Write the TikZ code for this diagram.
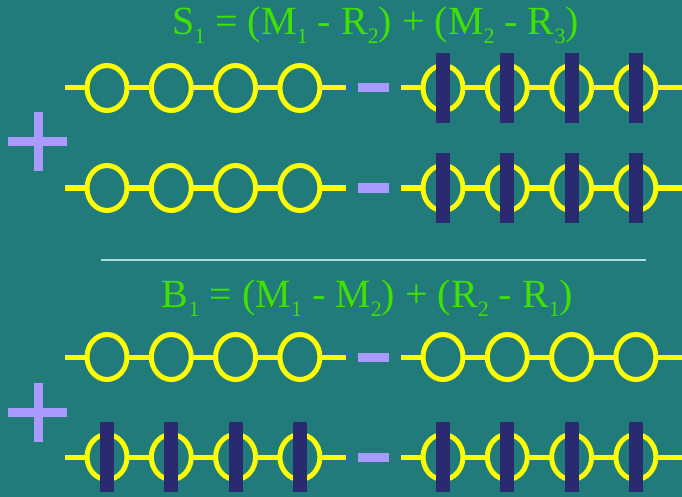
\documentclass[tikz,border=0pt]{standalone}
\usepackage{fontspec}
\setmainfont{Liberation Serif}
\definecolor{bgteal}{RGB}{33,123,122}
\definecolor{eqgreen}{RGB}{64,224,0}
\definecolor{beadyellow}{RGB}{255,255,0}
\definecolor{barnavy}{RGB}{42,42,112}
\definecolor{signlilac}{RGB}{170,153,255}
\definecolor{ruleblue}{RGB}{170,221,224}

% lowered subscript of the equations
\newcommand{\lowsub}[1]{\raisebox{-9pt}{\fontsize{22}{22}\selectfont #1}}

% one chain of four beads: #1 first centre x, #2 row y, #3 = 1 with bars
\newcommand{\beadchain}[3]{%
  \draw[bead] ({#1-42},#2) -- ({#1+239},#2);
  \foreach \k in {0,...,3}{
    \draw[bead, fill=bgteal] ({#1+64.3*\k},#2) ellipse [x radius=20, y radius=22.5];
    \ifnum#3=1 \fill[blocker] ({#1+64.3*\k-7},{#2-35}) rectangle ++(14,70);\fi
  }}

\begin{document}
\begin{tikzpicture}[x=1pt, y=-1pt,
    bead/.style={draw=beadyellow, line width=5pt},
    blocker/.style={fill=barnavy},
    sign/.style={fill=signlilac},
    eqtext/.style={text=eqgreen, font=\fontsize{40}{42}\selectfont, inner sep=0pt, anchor=base}]
    \fill[bgteal] (0,0) rectangle (682,497);
    \useasboundingbox (0,0) rectangle (682,497);

    % Upper equation
    \node[eqtext] (seq) at (375.5,35) {S\lowsub{1} = (M\lowsub{1} - R\lowsub{2}) + (M\lowsub{2} - R\lowsub{3})};

    % Rows 1 and 2
    \beadchain{107}{88}{0}
    \beadchain{443}{88}{1}
    \beadchain{107}{188}{0}
    \beadchain{443}{188}{1}

    % Minus and plus signs
    \foreach \y in {88,188,357,457}
        \fill[sign] (358,{\y-4.5}) rectangle (389,{\y+4.5});
    \foreach \y in {142,412}{
        \fill[sign] (8,{\y-4.5}) rectangle (67,{\y+4.5});
        \fill[sign] (33.5,{\y-29.5}) rectangle (42.5,{\y+29.5});
    }

    % Separator
    \draw[ruleblue, line width=2pt] (101,260) -- (646,260);

    % Lower equation
    \node[eqtext] (beq) at (367.5,307) {B\lowsub{1} = (M\lowsub{1} - M\lowsub{2}) + (R\lowsub{2} - R\lowsub{1})};

    % Rows 3 and 4
    \beadchain{107}{357}{0}
    \beadchain{443}{357}{0}
    \beadchain{107}{457}{1}
    \beadchain{443}{457}{1}
\end{tikzpicture}
\end{document}
